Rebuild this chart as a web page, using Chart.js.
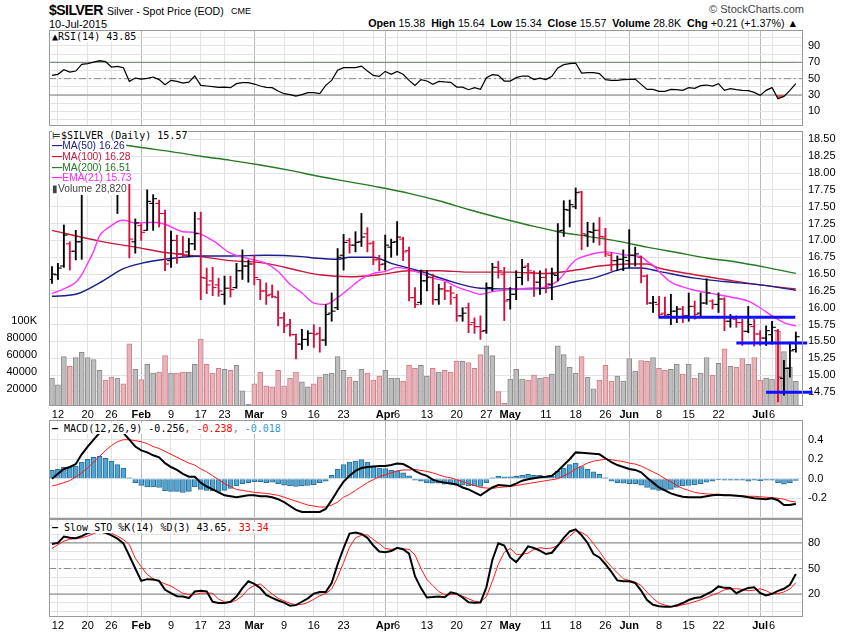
<!DOCTYPE html>
<html><head><meta charset="utf-8">
<script src="https://cdn.jsdelivr.net/npm/chart.js@4.4.1/dist/chart.umd.min.js"></script>
<style>
body{margin:0;width:850px;height:633px;background:#fff;position:relative;overflow:hidden;font-family:'Liberation Sans',Arial,sans-serif}
canvas{position:absolute;left:0}
.t{position:absolute;white-space:nowrap;color:#000}
.lg{position:absolute;left:52px;font-family:'DejaVu Sans Mono',monospace;font-size:10px;line-height:11px;white-space:nowrap}
.lg div{background:#fff;display:table;padding-right:1px}
.pl{position:absolute;left:52px;font-family:'Liberation Sans',Arial,sans-serif;font-size:10.3px;line-height:10.8px;white-space:nowrap}
.pl div{background:#fff;display:table;padding-right:1px}
</style></head><body>
<div class="t" style="left:49px;top:2px;font-weight:bold;font-size:14px;letter-spacing:-0.5px">$SILVER</div>
<div class="t" style="left:107px;top:5px;font-size:10.5px">Silver - Spot Price (EOD)</div>
<div class="t" style="left:231px;top:6px;font-size:9px">CME</div>
<div class="t" style="left:49px;top:18px;font-size:11px">10-Jul-2015</div>
<div class="t" style="right:46px;top:3px;font-size:11px;color:#444">© StockCharts.com</div>
<div class="t" style="right:52px;top:17px;font-size:10.7px"><b>Open</b> 15.38 &nbsp;<b>High</b> 15.64 &nbsp;<b>Low</b> 15.34 &nbsp;<b>Close</b> 15.57 &nbsp;<b>Volume</b> 28.8K &nbsp;<b>Chg</b> +0.21 (+1.37%) ▲</div>

<canvas id="rsi" width="850" height="96" style="top:30px"></canvas>
<canvas id="price" width="850" height="294" style="top:126px"></canvas>
<canvas id="macd" width="850" height="99" style="top:420px"></canvas>
<canvas id="sto" width="850" height="114" style="top:519px"></canvas>

<div class="lg" style="top:31px"><div>&#9650;RSI(14) 43.85</div></div>
<div class="lg" style="top:130px"><div>&#8872;$SILVER (Daily) 15.57</div></div>
<div class="pl" style="top:141px">
<div style="color:#1a1a80"><b>&#8212;</b>MA(50) 16.26</div>
<div style="color:#cc1133"><b>&#8212;</b>MA(100) 16.28</div>
<div style="color:#1f7a1f"><b>&#8212;</b>MA(200) 16.51</div>
<div style="color:#ff22ff"><b>&#8212;</b>EMA(21) 15.73</div>
<div style="color:#444">&#9646;Volume 28,820</div>
</div>
<div class="lg" style="top:423px"><div><b>&#8212;</b> MACD(12,26,9) -0.256<span style="color:#ff0000">, -0.238</span><span style="color:#3399cc">, -0.018</span></div></div>
<div class="lg" style="top:522px"><div><b>&#8212;</b> Slow STO %K(14) %D(3) 43.65<span style="color:#ff0000">, 33.34</span></div></div>

<script>
// ---------- categories (trading days) ----------
const janDays=[9,12,13,14,15,16,20,21,22,23,26,27,28,29,30];
const febDays=[2,3,4,5,6,9,10,11,12,13,17,18,19,20,23,24,25,26,27];
const marDays=[2,3,4,5,6,9,10,11,12,13,16,17,18,19,20,23,24,25,26,27,30,31];
const aprDays=[1,2,6,7,8,9,10,13,14,15,16,17,20,21,22,23,24,27,28,29,30];
const mayDays=[1,4,5,6,7,8,11,12,13,14,15,18,19,20,21,22,26,27,28,29];
const junDays=[1,2,3,4,5,8,9,10,11,12,15,16,17,18,19,22,23,24,25,26,29,30];
const julDays=[1,2,6,7,8,9,10];

// ---------- tick labels ----------
const tickDates=['Jan 12','Jan 20','Jan 26','Feb 2','Feb 9','Feb 17','Feb 23','Mar 2','Mar 9','Mar 16','Mar 23','Mar 30','Apr 1','Apr 6','Apr 13','Apr 20','Apr 27','May 1','May 4','May 11','May 18','May 26','Jun 1','Jun 8','Jun 15','Jun 22','Jun 29','Jul 1','Jul 6'];
const tickText=['12','20','26','Feb','9','17','23','Mar','9','16','23','','Apr','6','13','20','27','May','','11','18','26','Jun','8','15','22','','Jul','6'];

// ---------- price (OHLC) ----------
const open=[16.42,16.49,16.62,16.95,16.84,16.98,17.70,17.80,17.95,18.30,
18.15,18.00,18.20,17.85,16.98,17.22,17.15,17.55,17.55,17.40,
16.70,17.00,16.80,16.83,16.95,17.32,16.44,16.40,16.34,16.20,
16.29,16.30,16.55,16.62,16.65,16.42,16.25,16.20,16.15,15.85,
15.75,15.60,15.46,15.53,15.62,15.62,15.52,15.92,16.00,16.78,
17.00,16.93,16.98,17.10,16.96,16.72,16.65,16.90,16.98,17.02,
16.85,16.15,16.08,16.40,16.45,16.12,16.28,16.25,16.15,15.88,
16.00,15.78,15.72,15.66,16.30,16.60,16.50,16.12,16.20,16.45,
16.62,16.52,16.38,16.45,16.35,16.48,17.15,17.45,17.50,17.72,
17.08,17.12,17.15,17.05,16.78,16.70,16.72,16.70,16.78,16.75,
16.47,16.07,16.05,15.92,15.90,15.95,15.98,15.88,16.02,15.92,
16.07,16.10,16.05,16.13,15.80,15.83,15.78,15.65,15.72,15.61,
15.55,15.60,15.66,14.95,15.10,15.38];
const high=[16.61,16.66,17.23,16.98,17.15,17.85,18.05,18.15,18.45,18.40,
18.30,18.35,18.40,18.03,17.32,17.25,17.75,17.68,17.60,17.45,
17.14,17.08,17.06,17.03,17.42,17.42,16.59,16.60,16.44,16.47,
16.47,16.66,16.86,16.71,16.78,16.42,16.37,16.34,16.25,15.93,
15.83,15.61,15.68,15.66,15.75,15.71,16.05,16.22,16.88,17.09,
17.03,17.13,17.40,17.19,16.99,16.78,17.08,17.02,17.28,17.05,
16.90,16.30,16.56,16.55,16.50,16.35,16.38,16.32,16.20,16.00,
16.07,15.85,15.88,16.37,16.66,16.69,16.60,16.30,16.55,16.72,
16.66,16.55,16.55,16.58,16.59,17.25,17.59,17.60,17.78,17.73,
17.27,17.26,17.34,17.18,16.82,16.77,16.86,17.16,16.90,16.77,
16.49,16.17,16.17,16.16,16.20,16.02,16.02,16.22,16.10,16.22,
16.43,16.12,16.22,16.15,15.90,15.88,15.83,16.02,15.83,15.66,
15.73,15.80,15.68,15.22,15.49,15.64];
const low=[16.36,16.42,16.60,16.56,16.71,16.72,17.68,17.72,17.85,18.05,
17.85,17.40,17.70,16.74,16.81,17.00,17.15,17.15,17.20,16.55,
16.60,16.66,16.76,16.76,16.86,16.12,16.21,16.18,16.17,16.05,
16.16,16.29,16.42,16.38,16.34,16.12,16.05,16.15,15.73,15.63,
15.58,15.24,15.38,15.44,15.41,15.34,15.44,15.80,15.97,16.56,
16.81,16.83,16.91,16.83,16.64,16.55,16.56,16.75,16.78,16.70,
16.10,16.00,16.05,16.25,16.05,16.05,16.12,16.05,15.80,15.80,
15.63,15.62,15.53,15.62,16.25,16.44,15.81,15.98,16.12,16.34,
16.40,16.17,16.20,16.22,16.12,16.40,17.06,17.20,17.47,16.86,
16.91,16.97,16.93,16.76,16.55,16.55,16.55,16.60,16.62,16.37,
16.05,15.93,15.88,15.88,15.75,15.78,15.78,15.80,15.83,15.88,
16.05,15.98,15.93,15.66,15.71,15.71,15.44,15.63,15.43,15.44,
15.44,15.46,14.60,14.70,14.97,15.34];
const close=[16.50,16.59,17.08,16.84,16.98,17.70,17.80,17.98,18.30,18.20,
18.05,18.25,17.80,17.02,17.26,17.12,17.58,17.62,17.40,16.65,
17.00,16.80,16.78,16.95,17.10,16.45,16.34,16.30,16.25,16.29,
16.27,16.55,16.62,16.65,16.45,16.25,16.18,16.17,15.85,15.73,
15.60,15.46,15.53,15.62,15.60,15.52,15.90,15.95,16.75,16.97,
16.93,16.97,17.05,16.95,16.71,16.64,16.93,16.97,17.05,16.83,
16.15,16.05,16.40,16.45,16.12,16.28,16.25,16.22,15.88,15.92,
15.75,15.72,15.65,16.30,16.60,16.55,16.10,16.20,16.45,16.60,
16.55,16.38,16.45,16.35,16.50,17.14,17.46,17.53,17.71,17.10,
17.13,17.15,17.06,16.80,16.70,16.72,16.75,16.78,16.80,16.47,
16.07,16.08,15.90,15.89,15.95,15.98,15.88,16.02,15.90,16.07,
16.22,16.05,16.13,15.80,15.85,15.78,15.65,15.75,15.61,15.55,
15.66,15.71,14.97,15.10,15.36,15.57];

// ---------- volume ----------
const volume=[32800,24800,57900,46500,56800,62900,56800,54500,41900,30500,
33900,32800,25900,72800,43000,30900,48800,38500,39600,59000,
38500,38500,39600,39600,48800,78500,48800,38500,44200,43000,
41900,47600,17900,1900,25900,39600,23600,22500,41900,23600,
32800,39600,28200,22500,25900,33900,37300,38500,57900,41900,
33900,29300,43000,38500,30500,35000,41900,32800,32800,29300,
47600,44200,47600,35000,44200,39600,41900,39600,52200,52200,
51000,44200,60200,70500,59000,16800,3000,31600,43000,31600,
30500,36200,32800,33900,37300,70500,60200,45300,38500,57900,
33900,20200,30500,47600,29300,35000,29300,55600,40800,53300,
52200,56800,44200,41900,43000,48800,37300,48800,32800,38500,
56800,36200,49900,67000,46500,45300,55600,48800,56800,30500,
32800,31600,87600,63600,45300,28820];

// ---------- moving averages (read at sample days: [dayIndex, value]) ----------
const ma50Pts=[[0,16.17],[4,16.20],[8,16.37],[12,16.58],[15,16.66],[19,16.72],[25,16.77],[30,16.77],[36,16.78],[42,16.76],[44,16.74],[48,16.72],[50,16.75],[54,16.75],[57,16.66],[62,16.54],[66,16.42],[72,16.29],[77,16.28],[83,16.29],[88,16.39],[91,16.44],[97,16.59],[99,16.59],[102,16.54],[108,16.44],[113,16.39],[119,16.34],[125,16.26]];
const ma100Pts=[[0,17.15],[8,16.99],[14,16.90],[19,16.82],[25,16.76],[30,16.70],[36,16.66],[42,16.54],[45,16.49],[50,16.46],[55,16.49],[60,16.55],[65,16.55],[70,16.53],[77,16.53],[83,16.51],[88,16.56],[92,16.62],[97,16.65],[100,16.65],[102,16.59],[108,16.49],[113,16.42],[119,16.34],[125,16.28]];
const ma200Pts=[[12,18.42],[15,18.38],[20,18.32],[25,18.25],[30,18.19],[35,18.12],[40,18.04],[45,17.95],[50,17.87],[55,17.79],[60,17.70],[65,17.59],[70,17.46],[75,17.34],[80,17.23],[85,17.13],[90,17.06],[95,16.99],[100,16.90],[105,16.82],[110,16.74],[115,16.68],[120,16.60],[125,16.51]];
const ema21Pts=[[0,16.21],[2,16.28],[4,16.38],[5,16.49],[6,16.66],[7,16.84],[8,17.07],[9,17.16],[10,17.22],[11,17.28],[12,17.30],[14,17.26],[17,17.27],[19,17.24],[22,17.13],[24,17.12],[27,17.0],[30,16.81],[34,16.71],[36,16.66],[38,16.54],[40,16.35],[42,16.22],[44,16.07],[46,16.05],[48,16.15],[50,16.29],[52,16.43],[54,16.51],[56,16.54],[58,16.60],[60,16.57],[62,16.51],[64,16.44],[66,16.40],[68,16.31],[70,16.25],[72,16.20],[74,16.24],[77,16.27],[80,16.29],[83,16.31],[85,16.40],[86,16.50],[87,16.62],[88,16.71],[90,16.78],[92,16.82],[93,16.83],[96,16.79],[97,16.78],[99,16.76],[100,16.69],[101,16.63],[102,16.54],[104,16.38],[106,16.31],[108,16.26],[111,16.21],[114,16.16],[117,16.10],[119,16.0],[121,15.88],[123,15.78],[125,15.73]];

// ---------- support lines drawn on chart ----------
const supportLines=[{from:101.9,to:124.9,price:15.86},{from:115,to:126.9,price:15.475},{from:120,to:127.8,price:14.745}];

// ---------- RSI(14) ----------
const rsi=[54,55.3,61,58.1,59.3,67.5,68.4,70.3,72,70.8,64.2,65,63.4,46.7,50.7,49.5,50.4,52,48.8,42.7,
47.9,46.7,44.6,45.8,53.2,41.8,41,40.2,39.4,39.7,39,43.9,45.1,45.1,43.4,41,39.4,39,34.8,31.6,
30.4,28.7,30.4,32.9,32.9,31.6,41.8,47.9,60.2,63.5,63.5,63.5,65.4,59.3,54,52.8,58.9,55.3,58.9,55.3,
47.9,41.8,48.8,47.1,43,46.7,46,45.5,39.7,39.7,36.5,39,36.9,51.2,54.9,54,47.1,47.1,51.2,53.2,
53.2,48.8,50.7,48.8,52.8,63,67.1,68.4,69.1,56.9,57.3,57.3,56.1,48.8,47.9,47.9,48.8,49.1,49.5,43,
36.9,36.9,34.5,34.5,36.9,36.5,35.7,39,38.1,41.4,42.2,40.9,43.9,35.7,37.8,36.5,35.7,35.3,33.2,29.6,
35.7,39,25.5,28.3,35.7,43.85];

// ---------- MACD(12,26,9) ----------
const macd=[0.00,0.05,0.10,0.12,0.15,0.25,0.33,0.40,0.47,0.51,0.53,0.52,0.47,0.40,0.33,0.29,0.27,0.24,0.22,0.16,
0.12,0.09,0.05,0.02,0.02,-0.04,-0.08,-0.11,-0.14,-0.17,-0.18,-0.19,-0.18,-0.17,-0.17,-0.18,-0.18,-0.19,-0.21,-0.24,
-0.28,-0.32,-0.34,-0.34,-0.34,-0.34,-0.31,-0.22,-0.12,-0.03,0.03,0.08,0.11,0.12,0.125,0.13,0.13,0.14,0.155,0.15,
0.12,0.08,0.05,0.03,-0.01,-0.03,-0.04,-0.05,-0.06,-0.09,-0.11,-0.14,-0.17,-0.13,-0.09,-0.065,-0.07,-0.075,-0.05,-0.02,
-0.005,0.005,0.015,0.02,0.03,0.08,0.14,0.20,0.27,0.265,0.26,0.255,0.25,0.21,0.17,0.14,0.12,0.10,0.09,0.065,
0.01,-0.04,-0.09,-0.12,-0.15,-0.17,-0.185,-0.19,-0.19,-0.19,-0.18,-0.17,-0.165,-0.17,-0.17,-0.175,-0.18,-0.19,-0.20,-0.205,
-0.21,-0.20,-0.22,-0.27,-0.27,-0.256];
const signal=[-0.075,-0.06,-0.04,-0.02,0.02,0.06,0.11,0.17,0.23,0.29,0.34,0.38,0.40,0.40,0.39,0.38,0.36,0.33,0.31,0.28,
0.25,0.22,0.19,0.16,0.14,0.10,0.07,0.03,-0.01,-0.05,-0.08,-0.11,-0.12,-0.13,-0.14,-0.145,-0.15,-0.16,-0.17,-0.19,
-0.21,-0.23,-0.25,-0.27,-0.28,-0.29,-0.29,-0.27,-0.24,-0.19,-0.16,-0.12,-0.08,-0.04,-0.01,0.02,0.04,0.06,0.08,0.09,
0.09,0.095,0.085,0.075,0.06,0.04,0.02,0.01,-0.01,-0.03,-0.05,-0.07,-0.09,-0.095,-0.10,-0.09,-0.085,-0.08,-0.07,-0.06,
-0.05,-0.04,-0.03,-0.02,-0.01,0.00,0.03,0.06,0.10,0.13,0.16,0.18,0.19,0.20,0.195,0.185,0.175,0.16,0.15,0.13,
0.10,0.07,0.04,0.00,-0.03,-0.07,-0.10,-0.12,-0.14,-0.15,-0.155,-0.16,-0.16,-0.165,-0.17,-0.17,-0.175,-0.18,-0.18,-0.185,
-0.19,-0.195,-0.20,-0.21,-0.23,-0.238];
const hist=[0.085,0.095,0.12,0.12,0.13,0.17,0.20,0.22,0.23,0.21,0.18,0.145,0.11,0.01,-0.04,-0.07,-0.085,-0.085,-0.09,-0.125,
-0.13,-0.13,-0.14,-0.13,-0.085,-0.11,-0.12,-0.125,-0.13,-0.12,-0.10,-0.075,-0.05,-0.04,-0.03,-0.03,-0.04,-0.035,-0.05,-0.065,
-0.075,-0.08,-0.075,-0.07,-0.06,-0.04,-0.025,0.035,0.095,0.145,0.17,0.18,0.195,0.17,0.13,0.11,0.105,0.085,0.08,0.06,
0.03,-0.015,-0.025,-0.04,-0.045,-0.045,-0.055,-0.055,-0.065,-0.065,-0.075,-0.075,-0.08,-0.04,0.01,0.025,0.02,0.02,0.025,0.035,
0.045,0.035,0.035,0.025,0.025,0.075,0.11,0.145,0.16,0.125,0.095,0.07,0.045,0.01,-0.025,-0.04,-0.045,-0.05,-0.05,-0.065,
-0.09,-0.11,-0.12,-0.12,-0.11,-0.09,-0.075,-0.07,-0.06,-0.05,-0.035,-0.025,-0.01,-0.015,-0.015,-0.015,-0.015,-0.025,-0.015,-0.02,
-0.015,-0.015,-0.04,-0.055,-0.04,-0.018];

// ---------- Slow Stochastic ----------
const stoK=[78.8,80,87.5,86,85.6,88,91.5,93,93.5,92,89,85,79.5,65,50,35.5,37.5,37,35.5,25,
21,17.5,17.2,15.3,23,24,23.2,11,9.5,9.4,11,17,27,35,32,27,19,15.5,12.5,10,
6.2,7,11,15,20.5,22.4,22.4,33,55,74,91,92.3,90.5,86,77,70,69,70.5,74.3,72.6,
67.5,41,27,16,16.5,17.2,16.2,22,20.5,16,10.5,9.8,10.1,28,60,79.6,77,63,57.5,66,
76,74,71,67,68.5,77,86,93.5,96,89,80,67,63,55,46,36,35,35,33.1,24,
13,7.5,5.8,5.2,5,6.8,9.5,13,15.3,16.3,20,23.5,29,27.3,27.2,21,24.5,27.2,27.9,21.2,
18.5,20.3,23.8,26.2,31,43.65];
const stoD=[73.5,78,82,84.4,85,86,88,91,93.5,93,91.5,88,84,78,62,52,43,38,35,32,
29.5,25,21,19.5,19.5,21,21.2,21,14,11,10.1,13,18,26,30,31.9,26,20,15,12.1,
9,7.5,8,10,14,18,20.5,26,40,57,75,86,89,89.5,84,79,73.5,72.5,73.4,73,
72.5,66,50,37,30,23,19.2,19.5,20,17.5,14.5,11.5,10.6,17,35,55,69,73.7,66.6,66.6,
68,72.5,74.5,73.4,74,77,82,88,94,92.5,88,79,70,60,52,45,38,36,34,30,
22,15,9.4,7,5.3,5.5,7.5,9,11,13.3,16,19,21.5,25,26,26.3,25.5,24,24.5,26.3,
24,20.5,20.5,22.5,26,33.34];

// ================= build =================
const monthNames=['Jan','Feb','Mar','Apr','May','Jun','Jul'];
const dates=[];
[janDays,febDays,marDays,aprDays,mayDays,junDays,julDays].forEach((m,k)=>m.forEach(d=>dates.push(monthNames[k]+' '+d)));
const tickIdx=tickDates.map(d=>dates.indexOf(d));
const labelAt={}; const monthTick=new Set();
tickIdx.forEach((v,i)=>{labelAt[v]=tickText[i]; if(monthNames.includes(tickText[i])) monthTick.add(v);});
const XMIN=-0.5, XMAX=126.2;
const up=close.map((c,i)=> i===0 ? c>=open[i] : c>=close[i-1]);
const barCol=up.map(u=>u?'#000000':'#d40f3c');

const FONT='Liberation Sans';
const GRID='#e3e3e3', MGRID='#b9b9b9';
const frame={id:'frame',afterDraw(ch){const a=ch.chartArea,c=ch.ctx;c.save();c.strokeStyle='#9a9a9a';c.lineWidth=1;
 c.strokeRect(Math.round(a.left)+0.5,Math.round(a.top)+0.5,Math.round(a.right-a.left)-1,Math.round(a.bottom-a.top)-1);c.restore();}};
const noPad=a=>{a.paddingTop=0;a.paddingBottom=0;a.paddingLeft=0;a.paddingRight=0;};

function xAxis(show,h){return {type:'linear',min:XMIN,max:XMAX,offset:false,
 afterBuildTicks:a=>{a.ticks=tickIdx.map(v=>({value:v}));},
 afterFit:a=>{a.height=h;noPad(a);},
 grid:{color:c=>monthTick.has(c.tick&&c.tick.value)?MGRID:GRID,drawTicks:false,offset:false},
 border:{display:false},
 ticks:{display:show,autoSkip:false,maxRotation:0,padding:2,color:'#000',
  font:c=>({family:FONT,size:11,weight:monthTick.has(c.tick&&c.tick.value)?'bold':'normal'}),
  callback:v=>labelAt[v]!==undefined?labelAt[v]:''}};}
function yRight(min,max,ticks,fmt){return {position:'right',min,max,
 afterBuildTicks:a=>{a.ticks=ticks.map(v=>({value:v}));},
 afterFit:a=>{a.width=47;noPad(a);},
 grid:{color:GRID,drawTicks:false},border:{display:false},
 ticks:{autoSkip:false,padding:5,color:'#000',font:{family:FONT,size:11},callback:fmt}};}
function opts(scales,padLeft){return {responsive:false,animation:false,events:[],layout:{padding:{left:padLeft,right:0,top:0,bottom:0}},
 plugins:{legend:{display:false},tooltip:{enabled:false}},scales};}
function hline(v,color,dash){return {type:'line',data:[{x:XMIN,y:v},{x:XMAX,y:v}],borderColor:color,borderWidth:1,borderDash:dash||[],pointRadius:0,order:20};}
const pts=arr=>arr.map(p=>({x:p[0],y:p[1]}));
const series=arr=>arr.map((v,i)=>({x:i,y:v}));

// ---- RSI ----
new Chart(document.getElementById('rsi'),{type:'line',
 data:{datasets:[
  {data:series(rsi),borderColor:'#000',borderWidth:1.2,pointRadius:0,tension:0,order:1,
   fill:{target:{value:70},above:'rgba(40,140,40,0.8)',below:'rgba(0,0,0,0)'}},
  {data:series(rsi),borderColor:'rgba(0,0,0,0)',borderWidth:0,pointRadius:0,order:2,
   fill:{target:{value:30},above:'rgba(0,0,0,0)',below:'rgba(210,60,60,0.8)'}},
  hline(70,'#7d7d7d'),hline(30,'#7d7d7d'),hline(50,'#8a8a8a',[7,3,2,3])]},
 options:opts({x:xAxis(false,0),y:yRight(-7.9,109.5,[0,10,20,30,40,50,60,70,80,90,100],v=>[10,30,50,70,90].includes(v)?String(v):'')},49),
 plugins:[frame]});

// ---- Price + volume ----
new Chart(document.getElementById('price'),{type:'bar',
 data:{datasets:[
  ...supportLines.map(s=>({type:'line',data:[{x:s.from,y:s.price},{x:s.to,y:s.price}],borderColor:'#1010ff',borderWidth:3,pointRadius:0,clip:false,order:0,yAxisID:'y'})),
  {type:'line',data:open.map((v,i)=>({x:i-0.33,y:v})),showLine:false,pointStyle:'line',pointRadius:1.9,pointBorderWidth:1.1,pointBorderColor:barCol,yAxisID:'y',order:1},
  {type:'line',data:close.map((v,i)=>({x:i+0.33,y:v})),showLine:false,pointStyle:'line',pointRadius:1.9,pointBorderWidth:1.1,pointBorderColor:barCol,yAxisID:'y',order:1},
  {type:'bar',data:low.map((v,i)=>({x:i,y:[v,high[i]]})),backgroundColor:barCol,borderWidth:0,barThickness:1.2,grouped:false,yAxisID:'y',order:2},
  {type:'line',data:pts(ema21Pts),borderColor:'#ff33ff',borderWidth:1.4,pointRadius:0,cubicInterpolationMode:'monotone',yAxisID:'y',order:4},
  {type:'line',data:pts(ma50Pts),borderColor:'#1c1c8a',borderWidth:1.4,pointRadius:0,cubicInterpolationMode:'monotone',yAxisID:'y',order:5},
  {type:'line',data:pts(ma100Pts),borderColor:'#c8193c',borderWidth:1.4,pointRadius:0,cubicInterpolationMode:'monotone',yAxisID:'y',order:5},
  {type:'line',data:pts(ma200Pts),borderColor:'#257a22',borderWidth:1.4,pointRadius:0,cubicInterpolationMode:'monotone',yAxisID:'y',order:5},
  {type:'bar',data:series(volume),yAxisID:'yv',barThickness:5,grouped:false,borderWidth:1,
   backgroundColor:up.map(u=>u?'#bdbdbd':'#e8b3b9'),borderColor:up.map(u=>u?'#8c8c8c':'#cf7f8a'),order:10}]},
 options:opts({
  x:xAxis(true,14),
  y:yRight(14.541,18.624,[14.75,15,15.25,15.5,15.75,16,16.25,16.5,16.75,17,17.25,17.5,17.75,18,18.25,18.5],v=>v.toFixed(2)),
  yv:{position:'left',min:0,max:322000,afterBuildTicks:a=>{a.ticks=[20000,40000,60000,80000,100000].map(v=>({value:v}));},
   afterFit:a=>{a.width=49;noPad(a);},grid:{display:false},border:{display:false},
   ticks:{autoSkip:false,padding:4,color:'#000',font:{family:FONT,size:11},callback:v=>v===100000?'100K':String(v)}}},0),
 plugins:[frame]});

// ---- MACD ----
new Chart(document.getElementById('macd'),{type:'bar',
 data:{datasets:[
  {type:'line',data:series(macd),borderColor:'#000',borderWidth:2,pointRadius:0,order:1},
  {type:'line',data:series(signal),borderColor:'#ff1a1a',borderWidth:1,pointRadius:0,order:2},
  {type:'bar',data:series(hist),backgroundColor:'#55a5d2',borderColor:'#2b6f96',borderWidth:1,barThickness:5,grouped:false,order:3}]},
 options:opts({x:xAxis(false,0),y:yRight(-0.413,0.602,[-0.4,-0.2,0,0.2,0.4],v=>v<-0.3?'':(v===0?'0.0':v.toFixed(1)))},49),
 plugins:[frame]});

// ---- Slow STO ----
new Chart(document.getElementById('sto'),{type:'line',
 data:{datasets:[
  {data:series(stoK),borderColor:'#000',borderWidth:2,pointRadius:0,order:1},
  {data:series(stoD),borderColor:'#ff1a1a',borderWidth:1,pointRadius:0,order:2},
  hline(80,'#7d7d7d'),hline(20,'#7d7d7d'),hline(50,'#8a8a8a',[7,3,2,3])]},
 options:opts({x:xAxis(true,16),y:yRight(-6.9,108.1,[0,10,20,30,40,50,60,70,80,90,100],v=>[20,50,80].includes(v)?String(v):'')},49),
 plugins:[frame]});
</script>
</body></html>
